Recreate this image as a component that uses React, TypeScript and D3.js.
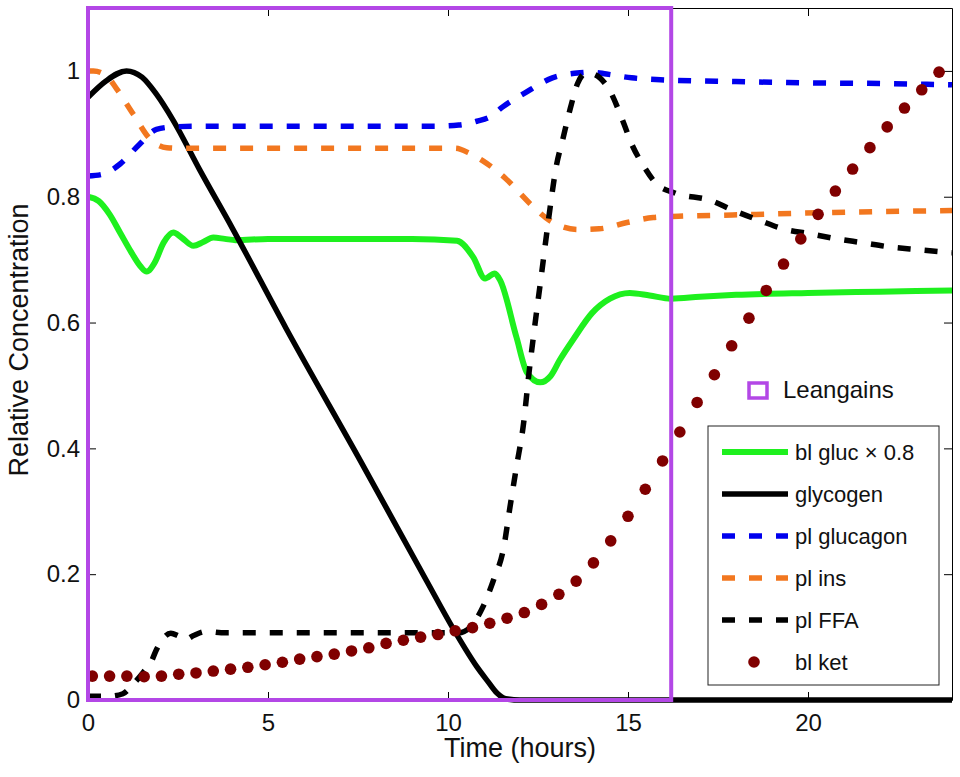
import { useEffect, useRef } from "react";
import * as d3 from "d3";

// time (hours) / relative value
const glucT = [0, 0.3, 0.6, 0.9, 1.2, 1.45, 1.63, 1.85, 2.1, 2.37, 2.6, 2.93, 3.2, 3.48, 3.8, 4.1, 5, 7, 9, 10.25, 10.7, 11.03, 11.3, 11.45, 11.9, 12.19, 12.56, 12.85, 13.1, 13.5, 14.0, 14.5, 15.05, 15.6, 16.2, 17, 18, 20, 22, 24];
const glucV = [0.8, 0.793, 0.772, 0.742, 0.712, 0.69, 0.681, 0.695, 0.727, 0.743, 0.735, 0.722, 0.728, 0.735, 0.733, 0.731, 0.733, 0.733, 0.733, 0.73, 0.704, 0.67, 0.678, 0.667, 0.577, 0.521, 0.505, 0.515, 0.54, 0.575, 0.615, 0.638, 0.647, 0.643, 0.638, 0.641, 0.644, 0.647, 0.649, 0.651];

const glycT = [0, 0.5, 1.07, 1.5, 1.9, 2.37, 3.1, 4.0, 5.5, 7.56, 9.4, 10.2, 10.8, 11.1, 11.36, 11.6, 12, 16, 20, 24];
const glycV = [0.958, 0.984, 1.0, 0.99, 0.963, 0.921, 0.843, 0.751, 0.591, 0.381, 0.19, 0.108, 0.053, 0.03, 0.011, 0.002, 0, 0, 0, 0];

const glucagonT = [0, 0.42, 0.89, 1.44, 1.9, 2.36, 3, 6, 9.5, 10.3, 10.8, 11.2, 11.5, 12.14, 12.9, 13.67, 14.0, 14.4, 15.1, 15.9, 18, 20, 22, 24];
const glucagonV = [0.833, 0.836, 0.852, 0.884, 0.907, 0.911, 0.912, 0.912, 0.912, 0.914, 0.92, 0.928, 0.942, 0.965, 0.989, 0.997, 0.998, 0.995, 0.989, 0.986, 0.983, 0.981, 0.98, 0.978];

const insT = [0, 0.15, 0.52, 0.8, 1.26, 1.72, 2.19, 2.6, 6, 10.2, 10.6, 10.97, 11.6, 12.28, 12.83, 13.2, 13.6, 14.2, 14.97, 15.7, 16.4, 17.9, 20.7, 24];
const insV = [1.0, 1.0, 0.992, 0.971, 0.931, 0.892, 0.878, 0.877, 0.877, 0.877, 0.869, 0.857, 0.829, 0.789, 0.762, 0.752, 0.748, 0.749, 0.759, 0.767, 0.769, 0.771, 0.775, 0.778];

const ffaT = [0, 0.6, 0.97, 1.25, 1.55, 1.75, 1.9, 2.05, 2.3, 2.5, 2.7, 2.95, 3.3, 3.7, 6, 10.3, 10.6, 10.97, 11.26, 11.55, 11.72, 11.9, 12.1, 12.25, 12.4, 12.6, 12.8, 13.0, 13.2, 13.4, 13.6, 13.85, 14.05, 14.5, 14.86, 15.1, 15.4, 15.8, 16.3, 17.3, 17.9, 18.67, 19.3, 20.06, 20.8, 21.5, 22.3, 23.0, 24];
const ffaV = [0.006, 0.006, 0.01, 0.025, 0.045, 0.06, 0.08, 0.095, 0.106, 0.102, 0.096, 0.103, 0.109, 0.107, 0.107, 0.107, 0.115, 0.148, 0.19, 0.243, 0.306, 0.37, 0.44, 0.52, 0.59, 0.678, 0.767, 0.846, 0.894, 0.941, 0.98, 0.997, 0.995, 0.968, 0.92, 0.884, 0.852, 0.82, 0.806, 0.794, 0.779, 0.762, 0.749, 0.741, 0.733, 0.727, 0.72, 0.716, 0.711];

const ketT = [0.12, 0.6, 1.08, 1.56, 2.04, 2.52, 3.0, 3.48, 3.96, 4.44, 4.92, 5.4, 5.88, 6.36, 6.84, 7.32, 7.8, 8.28, 8.76, 9.24, 9.72, 10.2, 10.68, 11.16, 11.64, 12.12, 12.6, 13.08, 13.56, 14.04, 14.52, 15.0, 15.48, 15.96, 16.44, 16.92, 17.4, 17.88, 18.36, 18.84, 19.32, 19.8, 20.28, 20.76, 21.24, 21.72, 22.2, 22.68, 23.16, 23.64];
const ketV = [0.038, 0.038, 0.038, 0.037, 0.038, 0.041, 0.043, 0.046, 0.049, 0.052, 0.056, 0.06, 0.065, 0.069, 0.073, 0.078, 0.083, 0.09, 0.095, 0.1, 0.104, 0.11, 0.115, 0.122, 0.13, 0.139, 0.152, 0.168, 0.189, 0.218, 0.253, 0.292, 0.335, 0.38, 0.426, 0.473, 0.517, 0.563, 0.607, 0.651, 0.693, 0.733, 0.772, 0.809, 0.844, 0.878, 0.911, 0.941, 0.97, 0.998];

const xTicks = [0, 5, 10, 15, 20];
const yTicks = [0, 0.2, 0.4, 0.6, 0.8, 1];
const boxEnd = 16.2; // Leangains window ends here

const FONT = "'Liberation Sans', Arial, Helvetica, sans-serif";
const PURPLE = "#b347e6";

const lines = [
  { name: "bl gluc \u00d7 0.8", t: glucT, v: glucV, color: "#1ef01e", dash: null, w: 6 },
  { name: "glycogen", t: glycT, v: glycV, color: "#000000", dash: null, w: 5.5 },
  { name: "pl glucagon", t: glucagonT, v: glucagonV, color: "#0000ee", dash: "13 14", w: 5.5 },
  { name: "pl ins", t: insT, v: insV, color: "#f2771f", dash: "13 14", w: 5.5 },
  { name: "pl FFA", t: ffaT, v: ffaV, color: "#000000", dash: "13 14", w: 5.5 },
];

const App = () => {
  const ref = useRef<SVGSVGElement | null>(null);

  useEffect(() => {
    document.body.style.margin = "0";
    if (!ref.current) return;
    const svg = d3.select(ref.current);
    svg.selectAll("*").remove();

    const left = 88, right = 952, top = 8, bottom = 700;
    const x = d3.scaleLinear().domain([0, 24]).range([left, right]);
    const y = d3.scaleLinear().domain([0, 1.1]).range([bottom, top]);

    svg.append("rect").attr("width", 960).attr("height", 777).attr("fill", "#fff");

    // axes, MATLAB style box with inward ticks
    const styleAxis = (g: any) => {
      g.selectAll(".domain").attr("stroke", "#000").attr("stroke-width", 1);
      g.selectAll(".tick line").attr("stroke", "#000").attr("stroke-width", 1);
      g.selectAll(".tick text").attr("fill", "#111").style("font-family", FONT).style("font-size", "24px");
    };
    svg.append("g").attr("transform", `translate(0,${bottom})`)
      .call(d3.axisBottom(x).tickValues(xTicks).tickSizeInner(-8).tickSizeOuter(0).tickPadding(14))
      .call(styleAxis);
    svg.append("g").attr("transform", `translate(0,${y(1.1)})`)
      .call(d3.axisTop(x).tickValues(xTicks).tickSizeInner(-8).tickSizeOuter(0).tickFormat(() => ""))
      .call(styleAxis);
    svg.append("g").attr("transform", `translate(${left},0)`)
      .call(d3.axisLeft(y).tickValues(yTicks).tickSizeInner(-8).tickSizeOuter(0).tickPadding(8).tickFormat(d3.format("")))
      .call(styleAxis);
    svg.append("g").attr("transform", `translate(${right},0)`)
      .call(d3.axisRight(y).tickValues(yTicks).tickSizeInner(-8).tickSizeOuter(0).tickFormat(() => ""))
      .call(styleAxis);

    svg.append("text")
      .attr("x", (left + right) / 2).attr("y", 757)
      .attr("text-anchor", "middle")
      .style("font-family", FONT).style("font-size", "27px").attr("fill", "#111")
      .text("Time (hours)");
    svg.append("text")
      .attr("transform", `translate(28,${(top + bottom) / 2 - 14}) rotate(-90)`)
      .attr("text-anchor", "middle")
      .style("font-family", FONT).style("font-size", "27px").attr("fill", "#111")
      .text("Relative Concentration");

    // series
    lines.forEach((s) => {
      const pts = s.t.map((t, i) => [t, s.v[i]] as [number, number]);
      const line = d3.line<[number, number]>()
        .x((d) => x(d[0]))
        .y((d) => y(d[1]))
        .curve(d3.curveMonotoneX);
      svg.append("path")
        .datum(pts)
        .attr("fill", "none")
        .attr("stroke", s.color)
        .attr("stroke-width", s.w)
        .attr("stroke-dasharray", s.dash)
        .attr("stroke-linejoin", "round")
        .attr("d", line);
    });

    svg.append("g")
      .selectAll("circle")
      .data(ketT)
      .enter()
      .append("circle")
      .attr("cx", (d) => x(d))
      .attr("cy", (_, i) => y(ketV[i]))
      .attr("r", 5.8)
      .attr("fill", "#800000");

    // Leangains window
    svg.append("rect")
      .attr("x", x(0)).attr("y", y(1.1))
      .attr("width", x(boxEnd) - x(0)).attr("height", y(0) - y(1.1))
      .attr("fill", "none").attr("stroke", PURPLE).attr("stroke-width", 4);

    // Leangains entry
    svg.append("rect")
      .attr("x", 749).attr("y", 383).attr("width", 18).attr("height", 15)
      .attr("fill", "none").attr("stroke", PURPLE).attr("stroke-width", 3.5);
    svg.append("text")
      .attr("x", 783).attr("y", 398)
      .style("font-family", FONT).style("font-size", "24px").attr("fill", "#111")
      .text("Leangains");

    // legend
    const lg = svg.append("g");
    lg.append("rect")
      .attr("x", 708).attr("y", 426).attr("width", 231).attr("height", 259)
      .attr("fill", "#fff").attr("stroke", "#222").attr("stroke-width", 1);
    const rowY = (i: number) => 452 + i * 42;
    lines.forEach((s, i) => {
      lg.append("line")
        .attr("x1", 722).attr("x2", 788)
        .attr("y1", rowY(i)).attr("y2", rowY(i))
        .attr("stroke", s.color).attr("stroke-width", s.w)
        .attr("stroke-dasharray", s.dash);
      lg.append("text")
        .attr("x", 795).attr("y", rowY(i) + 8)
        .style("font-family", FONT).style("font-size", "22px").attr("fill", "#111")
        .text(s.name);
    });
    lg.append("circle").attr("cx", 754).attr("cy", rowY(5)).attr("r", 5.8).attr("fill", "#800000");
    lg.append("text")
      .attr("x", 795).attr("y", rowY(5) + 8)
      .style("font-family", FONT).style("font-size", "22px").attr("fill", "#111")
      .text("bl ket");
  }, []);

  return <svg ref={ref} width={960} height={777} style={{ display: "block" }} />;
};

export default App;
